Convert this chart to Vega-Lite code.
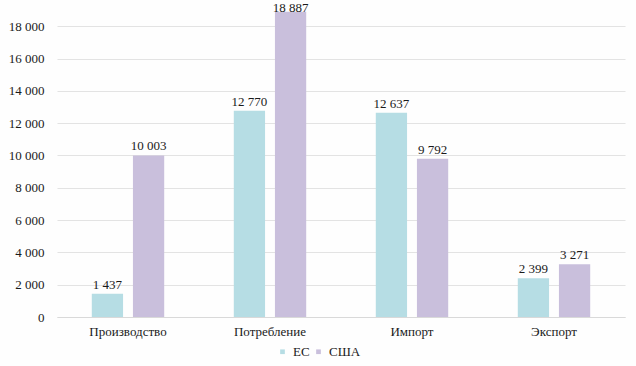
{
  "$schema": "https://vega.github.io/schema/vega-lite/v6.json",
  "width": 568,
  "height": 311,
  "autosize": {"type": "none"},
  "padding": {"left": 57, "top": 6, "right": 11, "bottom": 49},
  "background": "#fefefe",
  "config": {
    "locale": {"number": {"decimal": ",", "thousands": " ", "grouping": [3], "currency": ["", ""]}},
    "font": "Liberation Serif",
    "view": {"stroke": null},
    "axis": {"labelFont": "Liberation Serif", "labelFontSize": 13, "labelColor": "#1a1a1a"},
    "legend": {"labelFont": "Liberation Serif", "labelFontSize": 13, "labelColor": "#1a1a1a"}
  },
  "data": {
    "values": [
      {"cat": "Производство", "s": "ЕС", "v": 1437},
      {"cat": "Производство", "s": "США", "v": 10003},
      {"cat": "Потребление", "s": "ЕС", "v": 12770},
      {"cat": "Потребление", "s": "США", "v": 18887},
      {"cat": "Импорт", "s": "ЕС", "v": 12637},
      {"cat": "Импорт", "s": "США", "v": 9792},
      {"cat": "Экспорт", "s": "ЕС", "v": 2399},
      {"cat": "Экспорт", "s": "США", "v": 3271}
    ]
  },
  "encoding": {
    "x": {
      "field": "cat", "type": "nominal", "sort": null, "title": null,
      "scale": {"paddingInner": 0.49, "paddingOuter": 0.245},
      "axis": {"labelAngle": 0, "ticks": false, "domainColor": "#d9d9d9", "labelPadding": 8}
    },
    "xOffset": {"field": "s", "type": "nominal", "scale": {"domain": ["ЕС", "США"], "paddingInner": 0.24}},
    "y": {
      "field": "v", "type": "quantitative", "title": null,
      "scale": {"domain": [0, 19250], "nice": false},
      "axis": {"values": [0, 2000, 4000, 6000, 8000, 10000, 12000, 14000, 16000, 18000], "format": ",d", "domain": false, "ticks": false, "gridColor": "#e3e3e3", "labelPadding": 13}
    }
  },
  "layer": [
    {
      "mark": {"type": "bar"},
      "encoding": {
        "color": {
          "field": "s", "type": "nominal",
          "scale": {"domain": ["ЕС", "США"], "range": ["#b6dde4", "#c9bfdc"]},
          "legend": {"title": null, "orient": "none", "direction": "horizontal", "legendX": 219, "legendY": 339, "symbolType": "square", "symbolSize": 22, "symbolStrokeWidth": 0, "columnPadding": 2, "labelOffset": 4}
        }
      }
    },
    {
      "transform": [{"filter": "datum.v < 18000"}],
      "mark": {"type": "text", "baseline": "alphabetic", "dy": -5, "fontSize": 13, "font": "Liberation Serif", "color": "#1a1a1a"},
      "encoding": {"text": {"field": "v", "type": "quantitative", "format": ",d"}}
    },
    {
      "transform": [{"filter": "datum.v >= 18000"}],
      "mark": {"type": "text", "baseline": "alphabetic", "dy": 0.5, "fontSize": 13, "font": "Liberation Serif", "color": "#1a1a1a"},
      "encoding": {"text": {"field": "v", "type": "quantitative", "format": ",d"}}
    }
  ]
}
